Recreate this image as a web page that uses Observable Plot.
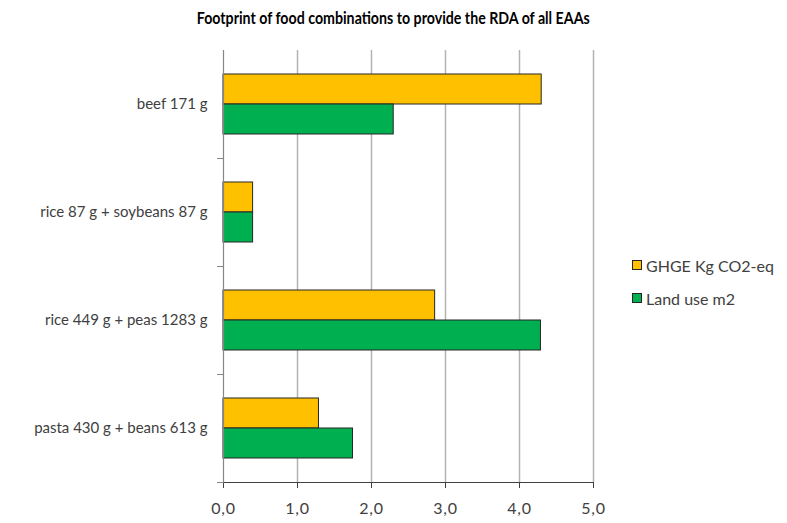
<!DOCTYPE html>
<html>
<head>
<meta charset="utf-8">
<script src="https://cdn.jsdelivr.net/npm/d3@7"></script>
<script src="https://cdn.jsdelivr.net/npm/@observablehq/plot@0.6"></script>
<style>
  body { margin: 0; background: white; }
  #wrap { position: relative; width: 787px; height: 523px; font-family: Lato, "Open Sans", sans-serif; }
  #title { position: absolute; top: 7px; left: 0; width: 787px; text-align: center; font-weight: bold; font-size: 17px; color: #000; }
  #title span { display: inline-block; transform-origin: center; white-space: nowrap; }
  #legend { position: absolute; left: 632px; top: 257px; font-size: 16px; color: #404040; }
  .item { display: flex; align-items: center; height: 16px; margin-bottom: 17px; }
  .sw { width: 8px; height: 8px; border: 1px solid #262626; margin-right: 4px; }
</style>
</head>
<body>
<div id="wrap">
  <div id="chart"></div>
  <div id="title"><span>Footprint of food combinations to provide the RDA of all EAAs</span></div>
  <div id="legend"></div>
</div>
<script>
const categories = ["beef 171 g", "rice 87 g + soybeans 87 g", "rice 449 g + peas 1283 g", "pasta 430 g + beans 613 g"];
const series = ["GHGE Kg CO2-eq", "Land use m2"];
const ghge = [4.3, 0.4, 2.86, 1.29];
const landUse = [2.3, 0.4, 4.29, 1.75];
const colors = ["#FFC000", "#00B050"];
const xTicks = [0, 1, 2, 3, 4, 5];

const data = categories.flatMap((c, i) => [
  {category: c, series: series[0], value: ghge[i]},
  {category: c, series: series[1], value: landUse[i]}
]);

const chart = Plot.plot({
  width: 787, height: 523,
  marginLeft: 223, marginRight: 194, marginTop: 49, marginBottom: 41,
  style: {fontFamily: "Lato, 'Open Sans', sans-serif", fontSize: "15px", color: "#404040", background: "white"},
  x: {domain: [0, 5], ticks: xTicks, tickFormat: d => d.toFixed(1).replace(".", ","), tickSize: 6, tickPadding: 14, label: null, line: true},
  fy: {domain: categories, padding: 0, label: null, tickSize: 0, tickPadding: 16},
  y: {domain: series, paddingInner: 0, paddingOuter: 0.775, axis: null},
  color: {domain: series, range: colors},
  marks: [
    Plot.ruleX(xTicks.slice(1), {stroke: "#b3b3b3", strokeWidth: 1.5}),
    Plot.barX(data, {fy: "category", y: "series", x: "value", fill: "series", stroke: "#262626", strokeWidth: 1}),
    Plot.ruleX([0], {stroke: "#868686", strokeWidth: 1.2}),
    Plot.frame({anchor: "bottom", stroke: "#868686", insetLeft: -6, insetRight: 370})
  ]
});
document.getElementById("chart").appendChild(chart);

// x tick labels: slightly larger, spaced like the original
d3.select(chart).selectAll("g[aria-label='x-axis tick label'] text")
  .style("font-size", "16px").style("letter-spacing", "0.8px");

const legend = document.getElementById("legend");
series.forEach((s, i) => {
  const item = document.createElement("div");
  item.className = "item";
  const sw = document.createElement("div");
  sw.className = "sw";
  sw.style.background = colors[i];
  const t = document.createElement("span");
  t.textContent = s;
  item.appendChild(sw);
  item.appendChild(t);
  legend.appendChild(item);
});

// fit the title to the original's narrower face
const ts = document.querySelector("#title span");
const fit = () => { const w = ts.getBoundingClientRect().width; if (w > 0) ts.style.transform = `scaleX(${393 / w})`; };
fit();
if (document.fonts && document.fonts.ready) document.fonts.ready.then(() => { ts.style.transform = ""; fit(); });
</script>
</body>
</html>
